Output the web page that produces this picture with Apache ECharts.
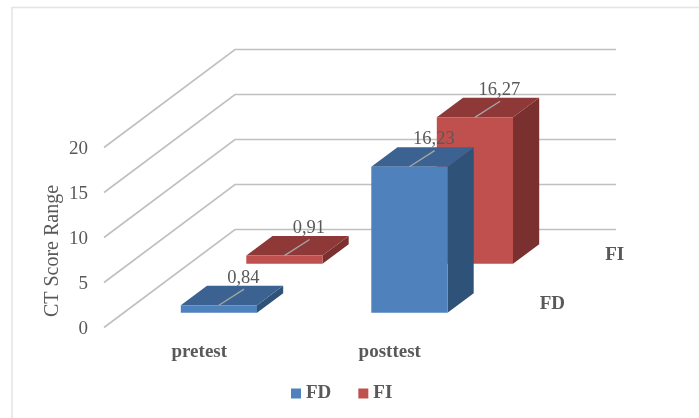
<!DOCTYPE html>
<html>
<head>
<meta charset="utf-8">
<style>html,body{margin:0;padding:0;background:#fff}#c{width:699px;height:418px;filter:blur(0.45px)}</style>
<script src="https://cdn.jsdelivr.net/npm/echarts@6/dist/echarts.min.js"></script>
</head>
<body>
<div id="c"></div>
<script>
const categories = ['pretest', 'posttest'];
const seriesNames = ['FD', 'FI'];
const fdValues = [0.84, 16.23];
const fiValues = [0.91, 16.27];
const tickValues = [0, 5, 10, 15, 20];

// Oblique projection of the depth axis, and layout of each bar in it.
const DEPTH_X = 131, DEPTH_Y = -98;
const BAR_WIDTH = 0.4, BAR_DEPTH = 0.2;
const INK = '#595959', FONT = '"Liberation Serif","Times New Roman",serif';
const colors = {
  FD: { front: '#4F81BD', top: '#3C6291', side: '#2F5279' },
  FI: { front: '#C0504D', top: '#8E3937', side: '#7A302E' }
};

function poly(points, fill) {
  return { type: 'polygon', shape: { points }, style: { fill } };
}

function barSeries(name, values, depthCenter) {
  const c = colors[name];
  return {
    name, type: 'custom', coordinateSystem: 'cartesian2d',
    itemStyle: { color: c.front },
    encode: { x: 0, y: 1 },
    data: values.map((v, i) => [i, v]),
    renderItem(params, api) {
      const band = api.size([1, 0])[0];
      const v = api.value(1);
      const base = api.coord([api.value(0), 0]);
      const peak = api.coord([api.value(0), v]);
      const dFront = depthCenter - BAR_DEPTH / 2;
      const l = base[0] - band * BAR_WIDTH / 2 + DEPTH_X * dFront;
      const r = l + band * BAR_WIDTH;
      const b = base[1] + DEPTH_Y * dFront;
      const t = peak[1] + DEPTH_Y * dFront;
      const ox = DEPTH_X * BAR_DEPTH, oy = DEPTH_Y * BAR_DEPTH;
      const cx = (l + r) / 2;
      return {
        type: 'group',
        children: [
          poly([[r, b], [r + ox, b + oy], [r + ox, t + oy], [r, t]], c.side),
          poly([[l, t], [r, t], [r + ox, t + oy], [l + ox, t + oy]], c.top),
          { type: 'rect', shape: { x: l, y: t, width: r - l, height: b - t }, style: { fill: c.front } },
          { type: 'line', shape: { x1: cx, y1: t, x2: cx + ox - 1, y2: t + oy + 3.5 },
            style: { stroke: '#A6A6A6', lineWidth: 1.3 } },
          { type: 'text', x: cx + 24.5, y: t - 27.5,
            style: { text: String(v).replace('.', ','), fill: INK, font: '18.5px ' + FONT,
                     align: 'center', verticalAlign: 'middle' } }
        ]
      };
    }
  };
}

const wallSeries = {
  name: 'walls', type: 'custom', coordinateSystem: 'cartesian2d', silent: true,
  encode: { x: 0, y: 1 },
  data: tickValues.map(t => [0, t]),
  renderItem(params, api) {
    const band = api.size([1, 0])[0];
    const p = api.coord([0, api.value(1)]);
    const x0 = p[0] - band / 2, y = p[1];
    const x1 = x0 + DEPTH_X, y1 = y + DEPTH_Y;
    return { type: 'polyline',
      shape: { points: [[x0, y], [x1, y1], [x1 + band * categories.length, y1]] },
      style: { stroke: '#C0C0C0', lineWidth: 1.6, fill: null } };
  }
};

const depthLabelSeries = {
  name: 'depth', type: 'custom', coordinateSystem: 'cartesian2d', silent: true,
  encode: { x: 0, y: 1 },
  data: seriesNames.map((n, i) => [categories.length - 1, 0, i]),
  renderItem(params, api) {
    const band = api.size([1, 0])[0];
    const p = api.coord([api.value(0), 0]);
    const d = (api.value(2) + 0.5) / seriesNames.length;
    return { type: 'text',
      x: p[0] + band / 2 + DEPTH_X * d + 22, y: p[1] + DEPTH_Y * d + 1,
      style: { text: seriesNames[api.value(2)], fill: INK, font: 'bold 19px ' + FONT,
               align: 'left', verticalAlign: 'middle' } };
  }
};

const chart = echarts.init(document.getElementById('c'), null, { renderer: 'canvas' });
chart.setOption({
  animation: false,
  backgroundColor: '#fff',
  graphic: [{ type: 'rect', z: -10, shape: { x: 12, y: 7.5, width: 760, height: 480 },
              style: { fill: '#fff', stroke: '#E4E4E4', lineWidth: 1.5 } }],
  grid: { left: 104, top: 147.5, width: 381, height: 180 },
  legend: {
    data: seriesNames, left: 291, top: 384, padding: 0, icon: 'rect',
    itemWidth: 10, itemHeight: 10, itemGap: 27, selectedMode: false,
    textStyle: { color: INK, fontFamily: FONT, fontWeight: 'bold', fontSize: 19 }
  },
  xAxis: {
    type: 'category', data: categories,
    axisLine: { show: false }, axisTick: { show: false }, splitLine: { show: false },
    axisLabel: { color: INK, fontFamily: FONT, fontWeight: 'bold', fontSize: 19, margin: 15 }
  },
  yAxis: {
    type: 'value', min: 0, max: 20, interval: 5,
    name: 'CT Score Range', nameLocation: 'middle', nameGap: 41, nameMoveOverlap: false,
    nameTextStyle: { color: INK, fontFamily: FONT, fontSize: 20, padding: [0, 27, 0, 0] },
    axisLine: { show: false }, axisTick: { show: false }, splitLine: { show: false },
    axisLabel: {
      margin: 16, formatter: '{a|{value}}',
      rich: { a: { color: INK, fontFamily: FONT, fontSize: 19, padding: [3, 0, 0, 0] } }
    }
  },
  series: [
    wallSeries,
    barSeries('FI', fiValues, 0.75),
    barSeries('FD', fdValues, 0.25),
    depthLabelSeries
  ]
});
</script>
</body>
</html>
